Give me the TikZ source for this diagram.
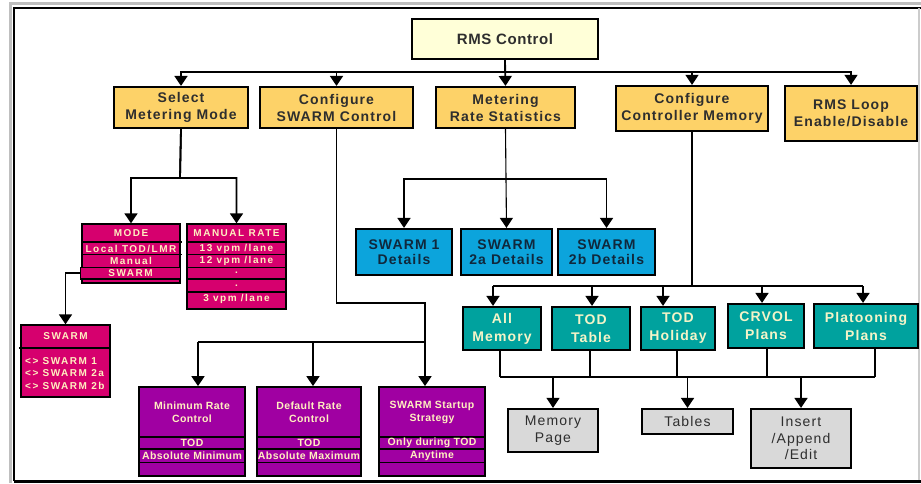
\documentclass[tikz,border=0pt]{standalone}
\usepackage{fontspec}
\setmainfont{Liberation Sans}
\newfontfamily\fA[LetterSpace=8]{Liberation Sans}
\newfontfamily\fV[LetterSpace=4]{Liberation Sans}
\newfontfamily\fP[LetterSpace=15]{Liberation Sans}
\usetikzlibrary{arrows.meta}
\definecolor{rmsY}{HTML}{FFFFD8}
\definecolor{orng}{HTML}{FDD268}
\definecolor{pnk}{HTML}{D6006E}
\definecolor{prp}{HTML}{A000A2}
\definecolor{blu}{HTML}{0CA4DC}
\definecolor{tea}{HTML}{00A29E}
\definecolor{gry}{HTML}{D9D9D9}
\definecolor{pinktxt}{HTML}{FFEFC0}
\definecolor{tealtxt}{HTML}{F4F4C8}
\definecolor{blutxt}{HTML}{10283C}
\definecolor{txtd}{HTML}{2E2E2E}
\newcommand\bx[7]{\node[#6, minimum width={(#4)-(#2)}, minimum height={(#5)-(#3)}] (#1) at ({((#2)+(#4))/2},{((#3)+(#5))/2}) {#7};}
\tikzset{
 base/.style={draw=black, line width=2.2pt, inner sep=0pt, align=center},
 ybox/.style={base, fill=rmsY, text=txtd, font=\fV\bfseries\fontsize{15}{18}\selectfont},
 obox/.style={base, fill=orng, text=txtd, font=\fA\bfseries\fontsize{14}{17}\selectfont},
 bbox/.style={base, fill=blu, text=blutxt, font=\fA\bfseries\fontsize{14}{15}\selectfont},
 tbox/.style={base, fill=tea, text=tealtxt, font=\fA\bfseries\fontsize{14}{18}\selectfont},
 gbox/.style={base, fill=gry, text=txtd, font=\fA\fontsize{14}{16.5}\selectfont},
 pbox/.style={draw=black, line width=1.4pt, fill=pnk, inner sep=0pt},
 vbox/.style={draw=black, line width=1.8pt, fill=prp, inner sep=0pt},
 ptxt/.style={inner sep=0pt, text=pinktxt, font=\fP\bfseries\fontsize{10}{11}\selectfont},
 vtxt/.style={inner sep=0pt, text=pinktxt, align=center, font=\fV\bfseries\fontsize{10.5}{13}\selectfont},
 rowln/.style={line width=1.3pt},
 ln/.style={line width=1.8pt},
 thinln/.style={line width=1.1pt},
 arr/.style={ln, -{Triangle[width=13pt,length=10pt]}},
 arrt/.style={thinln, -{Triangle[width=13pt,length=10pt]}},
}
\begin{document}
\begin{tikzpicture}[x=1pt,y=-1pt]
\useasboundingbox (0,0) rectangle (921,483);
% frame
\draw[line width=3pt, black!25] (10,483) -- (10,3) -- (921,3);
\draw[line width=2pt] (14,481) -- (14,8) -- (921,8);
\draw[line width=3pt] (14,481) -- (921,481);
\draw[line width=1.5pt, black!20] (919,8) -- (919,480);

% top level
\bx{rms}{412}{19}{598}{59}{ybox}{RMS Control}
\bx{sel}{114}{87}{248}{128}{obox}{Select\\Metering Mode}
\bx{cfs}{260}{87}{413}{128}{obox}{Configure\\SWARM Control}
\bx{mrs}{436}{87}{575}{128}{obox}{Metering\\Rate Statistics}
\bx{ccm}{616}{86}{768}{131}{obox}{Configure\\Controller Memory}
\bx{rlp}{785}{86}{917}{141}{obox}{RMS Loop\\Enable/Disable}

\coordinate (bus1) at (505,72);
\coordinate (bus2) at (535,72);
\draw[arr] (rms.south) -- (bus1) -| (sel.north);
\draw[arr] (rms.south) -- (bus1) -| (cfs.north);
\draw[arr] (rms.south) -- (mrs.north);
\draw[ln] (bus1) -- (bus2);
\draw[arrt] (bus2) -| (ccm.north);
\draw[arrt] (bus2) -| (rlp.north);

% select metering mode -> pink boxes
\bx{mode}{82}{224}{180}{283}{pbox}{}
\draw[rowln] (82,242) -- (182,242);
\draw[rowln] (82,254.5) -- (182,254.5);
\node[ptxt] (modeA) at (131,233.5) {MODE};
\node[ptxt] (modeB) at (131,248.5) {Local TOD/LMR};
\node[ptxt] (modeC) at (131,261) {Manual};
\node[pbox, minimum width=100, minimum height=11.5, text=pinktxt, font=\fP\bfseries\fontsize{10}{11}\selectfont] (modeD) at (130.5,273.3) {SWARM};

\bx{man}{187}{224}{286}{309}{pbox}{}
\draw[rowln] (187,242) -- (286,242);
\draw[rowln] (187,254.5) -- (286,254.5);
\draw[rowln] (187,267.5) -- (286,267.5);
\draw[line width=2pt] (187,279) -- (286,279);
\draw[rowln] (187,292) -- (286,292);
\node[ptxt] (manA) at (236.5,233.5) {MANUAL RATE};
\node[ptxt] (manB) at (236.5,248.5) {13 vpm /lane};
\node[ptxt] (manC) at (236.5,261) {12 vpm /lane};
\node[ptxt] (manD) at (236.5,273) {.};
\node[ptxt] (manE) at (236.5,285.5) {.};
\node[ptxt] (manF) at (236.5,299) {3 vpm /lane};

\coordinate (b2) at (180,178);
\draw[arr] (sel.south) -- (b2) -| (mode.north);
\draw[arr] (sel.south) -- (b2) -| (man.north);

\bx{swl}{21}{325}{110}{397}{pbox}{}
\draw[rowln] (19,348) -- (110,348);
\node[ptxt] (swlA) at (65.5,336.5) {SWARM};
\node[ptxt, anchor=west] (swlB) at (25,361) {<> SWARM 1};
\node[ptxt, anchor=west] (swlC) at (25,373.5) {<> SWARM 2a};
\node[ptxt, anchor=west] (swlD) at (25,386) {<> SWARM 2b};
\draw[arr] (modeD.west) -| (swl.north);

% configure swarm control -> purple
\bx{mr}{139}{387}{245}{476}{vbox}{}
\bx{dr}{257}{387}{361}{476}{vbox}{}
\bx{ss}{379}{387}{485}{476}{vbox}{}
\foreach \a/\b in {139/245,257/361,379/485}{
  \draw[rowln] (\a,437) -- (\b,437);
  \draw[rowln] (\a,449) -- (\b,449);
  \draw[line width=1.8pt] (\a,462.5) -- (\b,462.5);
}
\node[vtxt] (mrA) at (192,412.5) {Minimum Rate\\Control};
\node[vtxt] (mrB) at (192,443) {TOD};
\node[vtxt] (mrC) at (192,455.5) {Absolute Minimum};
\node[vtxt] (drA) at (309,412.5) {Default Rate\\Control};
\node[vtxt] (drB) at (309,443) {TOD};
\node[vtxt] (drC) at (309,455.5) {Absolute Maximum};
\node[vtxt] (ssA) at (432,412.5) {SWARM Startup\\Strategy};
\node[vtxt] (ssB) at (432,443) {Only during TOD};
\node[vtxt] (ssC) at (432,455.5) {Anytime};

\coordinate (k1) at (336.5,303);
\coordinate (k2) at (425,342);
\coordinate (p1) at (198,342);
\coordinate (p2) at (313,342);
\draw[ln] (cfs.south) -- (k1) -| (k2);
\draw[ln] (p1) -- (k2);
\draw[arr] (p1) -- (p1 |- mr.north);
\draw[arr] (p2) -- (p2 |- dr.north);
\draw[arr] (k2) -- (k2 |- ss.north);

% metering rate statistics -> blue
\bx{swa}{356}{229}{452}{275}{bbox}{SWARM 1\\Details}
\bx{swb}{461}{229}{552}{275}{bbox}{SWARM\\2a Details}
\bx{swc}{558}{229}{655}{275}{bbox}{SWARM\\2b Details}
\coordinate (m1) at (505.5,179);
\draw[thinln] (m1 -| swa.north) -- (m1 -| swc.north);
\draw[arrt] (mrs.south) -- (swb.north);
\draw[arr] (m1) -| (swa.north);
\draw[arr] (m1) -| (swc.north);

% configure controller memory -> teal
\bx{am}{463}{307}{541}{350}{tbox}{All\\Memory}
\bx{tt}{552}{307}{630}{350}{tbox}{TOD\\Table}
\bx{th}{641}{307}{715}{350}{tbox}{TOD\\Holiday}
\bx{cr}{728}{304}{804}{348}{tbox}{CRVOL\\Plans}
\bx{pp}{814}{304}{918}{348}{tbox}{Platooning\\Plans}
\coordinate (t1) at (493,286);
\coordinate (t2) at (592,286);
\coordinate (t3) at (663,286);
\coordinate (t4) at (762,286);
\coordinate (t5) at (863,286);
\draw[thinln] (ccm.south) -- (ccm.south |- t1);
\draw[ln] (t1) -- (t5);
\draw[arr] (t1) -- (t1 |- am.north);
\draw[arr] (t2) -- (t2 |- tt.north);
\draw[arr] (t3) -- (t3 |- th.north);
\draw[arr] (t4) -- (t4 |- cr.north);
\draw[arr] (t5) -- (t5 |- pp.north);

% teal -> gray
\bx{mp}{508}{409}{598}{452}{gbox}{Memory\\Page}
\bx{tb}{642}{409}{733}{434}{gbox}{Tables}
\bx{ins}{751}{409}{851}{468}{gbox}{Insert\\/Append\\/Edit}
\coordinate (q1) at (500,377);
\coordinate (q2) at (590,377);
\coordinate (q3) at (677,377);
\coordinate (q4) at (767,377);
\coordinate (q5) at (875,377);
\draw[ln] (q1 |- am.south) -- (q1);
\draw[ln] (q2 |- tt.south) -- (q2);
\draw[ln] (q3 |- th.south) -- (q3);
\draw[ln] (q4 |- cr.south) -- (q4);
\draw[ln] (q5 |- pp.south) -- (q5);
\draw[ln] (q1) -- (q5);
\draw[arrt] (mp.north |- q1) -- (mp.north);
\draw[arr] (tb.north |- q1) -- (tb.north);
\draw[arr] (ins.north |- q1) -- (ins.north);
\end{tikzpicture}
\end{document}
